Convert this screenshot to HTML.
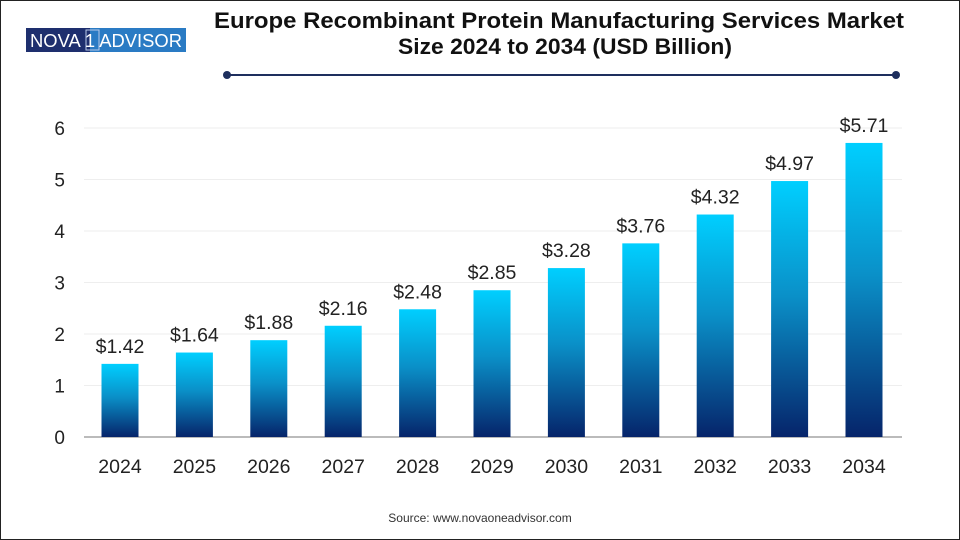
<!DOCTYPE html>
<html><head><meta charset="utf-8"><style>
body{margin:0;width:960px;height:540px;overflow:hidden;background:#fff;font-family:"Liberation Sans",sans-serif}
#frame{position:absolute;left:0;top:0;width:958px;height:538px;border:1px solid #222}
</style></head><body>
<div id="frame"></div>
<svg id="c" width="960" height="540" style="position:absolute;left:0;top:0">
<defs><linearGradient id="g" x1="0" y1="0" x2="0" y2="1">
<stop offset="0" stop-color="#00cfff"/><stop offset="0.45" stop-color="#0a90c8"/><stop offset="1" stop-color="#06246a"/></linearGradient></defs>
<g>
<rect x="26" y="28" width="160" height="24" fill="#1e2f6e"/>
<rect x="90" y="28" width="96" height="24" fill="#2a7bc4"/>
<rect x="86" y="30" width="13" height="20" fill="none" stroke="#b8c8e8" stroke-width="1"/>
<text x="30" y="47" font-size="18" fill="#fff" textLength="152" lengthAdjust="spacingAndGlyphs">NOVA 1 ADVISOR</text>
</g>
<text x="559" y="28" text-anchor="middle" font-size="22" font-weight="bold" fill="#111" textLength="690" lengthAdjust="spacingAndGlyphs">Europe Recombinant Protein Manufacturing Services Market</text>
<text x="565" y="54" text-anchor="middle" font-size="22" font-weight="bold" fill="#111" textLength="334" lengthAdjust="spacingAndGlyphs">Size 2024 to 2034 (USD Billion)</text>
<line x1="227" y1="75" x2="896" y2="75" stroke="#1e2f5e" stroke-width="2"/>
<circle cx="227" cy="75" r="4" fill="#1e2f5e"/><circle cx="896" cy="75" r="4" fill="#1e2f5e"/>
<g id="grid"></g><g id="bars"></g>
<text x="480" y="522" text-anchor="middle" font-size="12" fill="#333">Source: www.novaoneadvisor.com</text>
</svg>
<script>
const categories=["2024","2025","2026","2027","2028","2029","2030","2031","2032","2033","2034"];
const values=[1.42,1.64,1.88,2.16,2.48,2.85,3.28,3.76,4.32,4.97,5.71];
const valueLabels=["$1.42","$1.64","$1.88","$2.16","$2.48","$2.85","$3.28","$3.76","$4.32","$4.97","$5.71"];
const yTicks=[0,1,2,3,4,5,6];
const ns="http://www.w3.org/2000/svg";
const y=v=>437-v*51.5;
const x=i=>120+i*74.4;
function mk(t,a,p){const e=document.createElementNS(ns,t);for(const k in a)e.setAttribute(k,a[k]);p.appendChild(e);return e;}
const grid=document.getElementById('grid'),bars=document.getElementById('bars');
yTicks.forEach(t=>{
 if(t>0){const l=mk('line',{x1:84,x2:902,y1:y(t),y2:y(t),stroke:'#eee'},grid);
 
 }
 const tx=mk('text',{x:65,y:y(t)+7,'text-anchor':'end','font-size':19,fill:'#222'},grid);tx.textContent=t;
 
 
});
const ax=mk('line',{x1:84,x2:902,y1:437,y2:437,stroke:'#bbb','stroke-width':2},grid);


categories.forEach((c,i)=>{
 const r=mk('rect',{x:x(i)-18.5,y:y(values[i]),width:37,height:437-y(values[i]),fill:'url(#g)'},bars);
 
 
 const v=mk('text',{x:x(i),y:y(values[i])-11,'text-anchor':'middle','font-size':19.5,fill:'#222'},bars);v.textContent=valueLabels[i];
 
 
 const xl=mk('text',{x:x(i),y:473,'text-anchor':'middle','font-size':19.5,fill:'#222'},bars);xl.textContent=c;
 
 
});
</script>
</body></html>
